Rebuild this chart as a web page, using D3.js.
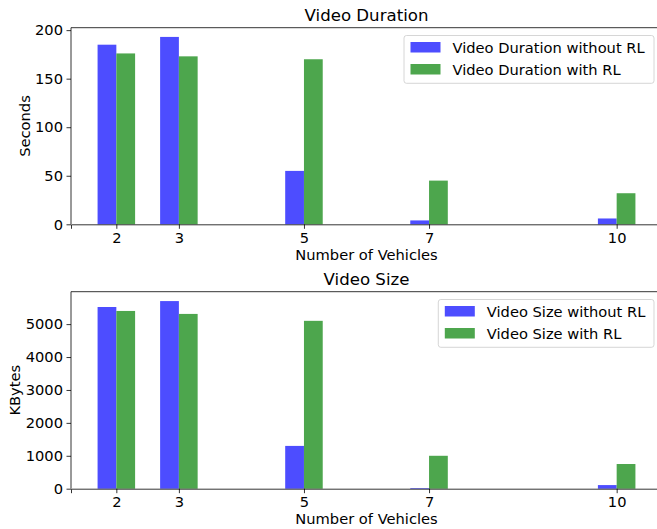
<!DOCTYPE html>
<html><head><meta charset="utf-8">
<script src="https://cdn.jsdelivr.net/npm/d3@7"></script>
<style>body{margin:0;background:#fff}svg{display:block;font-family:"DejaVu Sans",sans-serif}</style>
</head><body><svg id="c" width="657" height="529"></svg>
<script>
const vehicles = [2, 3, 5, 7, 10];
const xTicks = [2, 3, 5, 7, 10];
const durationWithout = [185, 193, 55, 4, 6];
const durationWith = [176, 173, 170, 45, 32];
const sizeWithout = [5520, 5700, 1300, 20, 110];
const sizeWith = [5400, 5310, 5100, 1000, 750];
const durationTicks = [0, 50, 100, 150, 200];
const sizeTicks = [0, 1000, 2000, 3000, 4000, 5000];

const svg = d3.select("#c");
const blue = "#4d4dff", green = "#4da64d";
const barW = 0.3;
const fs = 14.67;

function panel(o) {
  const g = svg.append("g");
  const x = d3.scaleLinear().domain([1.275, 10.725]).range([71, 662]);
  const y = d3.scaleLinear().domain([0, o.ymax]).range([o.bottom, o.top]);
  g.selectAll("rect.a").data(vehicles).join("rect")
    .attr("x", d => x(d - barW)).attr("width", d => x(d) - x(d - barW))
    .attr("y", (d, i) => y(o.a[i])).attr("height", (d, i) => y(0) - y(o.a[i]))
    .attr("fill", blue);
  g.selectAll("rect.b").data(vehicles).join("rect")
    .attr("x", d => x(d)).attr("width", d => x(d + barW) - x(d))
    .attr("y", (d, i) => y(o.b[i])).attr("height", (d, i) => y(0) - y(o.b[i]))
    .attr("fill", green);
  const xa = g.append("g").attr("transform", `translate(0,${o.bottom})`)
    .call(d3.axisBottom(x).tickValues(xTicks).tickFormat(d3.format("d")).tickSizeOuter(0).tickSize(4.5).tickPadding(3.5));
  const ya = g.append("g").attr("transform", `translate(71,0)`)
    .call(d3.axisLeft(y).tickValues(o.ticks).tickFormat(d3.format("d")).tickSizeOuter(0).tickSize(4.5).tickPadding(3.5));
  [xa, ya].forEach(a => {
    a.selectAll("text").attr("font-size", fs).attr("fill", "#000").attr("font-family", "DejaVu Sans");
    a.selectAll("line").attr("stroke", "#000").attr("stroke-width", 0.8);
    a.select(".domain").attr("stroke", "#000").attr("stroke-width", 0.8);
  });
  ya.select(".domain").attr("d", `M0,${o.bottom}V${o.top}`);
  g.append("line").attr("x1", 71).attr("x2", 662).attr("y1", o.top).attr("y2", o.top)
    .attr("stroke", "#000").attr("stroke-width", 0.8);
  g.append("text").attr("x", 366.5).attr("y", o.top - 7).attr("text-anchor", "middle")
    .attr("font-size", 16.6).text(o.title);
  g.append("text").attr("x", 366.5).attr("y", o.bottom + 35.5).attr("text-anchor", "middle")
    .attr("font-size", fs).text("Number of Vehicles");
  g.append("text").attr("transform", `translate(${o.ylx},${(o.top + o.bottom) / 2}) rotate(-90)`)
    .attr("text-anchor", "middle").attr("font-size", fs).text(o.ylabel);
  const lg = g.append("g").attr("transform", `translate(${o.lx},${o.top + 7.8})`);
  lg.append("rect").attr("x", 0).attr("y", 0).attr("width", 654 - o.lx).attr("height", 47.8)
    .attr("rx", 2.5).attr("fill", "#fff").attr("fill-opacity", 0.8).attr("stroke", "#ccc").attr("stroke-width", 0.8);
  const items = [[o.names[0], blue], [o.names[1], green]];
  items.forEach((it, i) => {
    lg.append("rect").attr("x", 6.5).attr("y", 6.5 + i * 22).attr("width", 30).attr("height", 10.5).attr("fill", it[1]);
    lg.append("text").attr("x", 48.5).attr("y", 17.3 + i * 22).attr("font-size", fs).text(it[0]);
  });
}

panel({top: 27.7, bottom: 224.3, ymax: 202.5, a: durationWithout, b: durationWith, ticks: durationTicks,
  title: "Video Duration", ylabel: "Seconds", ylx: 30, lx: 404,
  names: ["Video Duration without RL", "Video Duration with RL"]});
panel({top: 291.7, bottom: 488.7, ymax: 5985, a: sizeWithout, b: sizeWith, ticks: sizeTicks,
  title: "Video Size", ylabel: "KBytes", ylx: 20, lx: 438.3,
  names: ["Video Size without RL", "Video Size with RL"]});
</script></body></html>
